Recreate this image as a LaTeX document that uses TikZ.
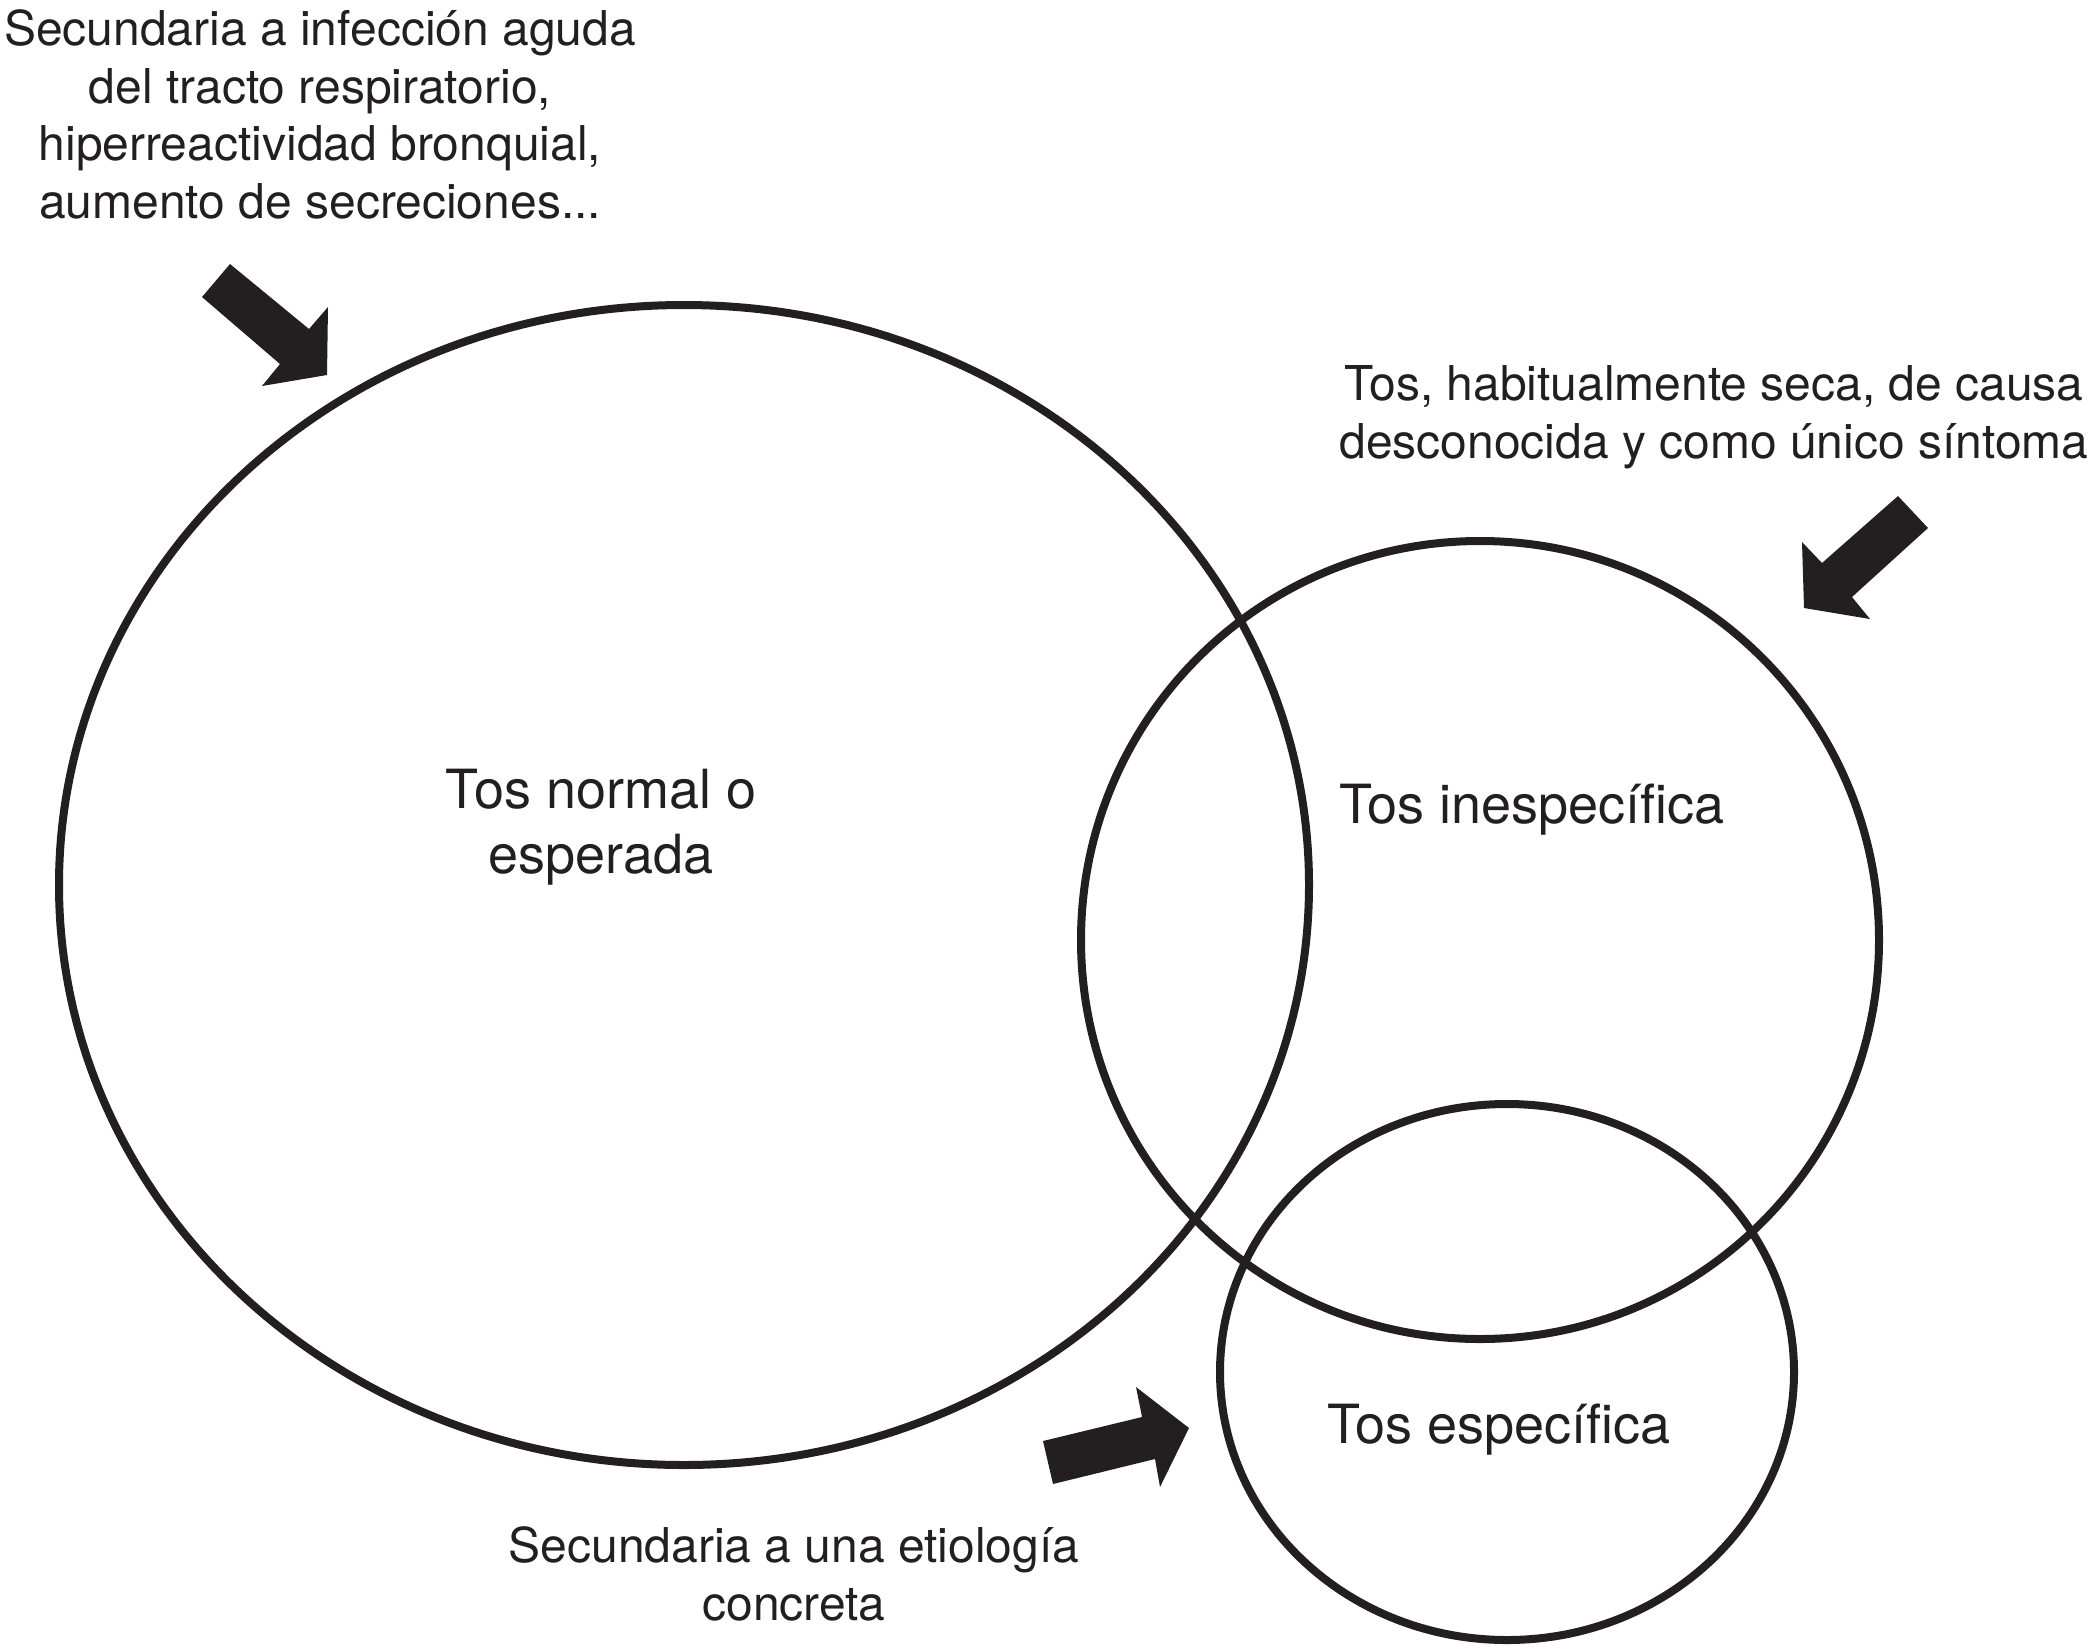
\documentclass[tikz,border=0pt]{standalone}
\usepackage{fontspec}
\setmainfont{TeX Gyre Heros}
\definecolor{ink}{HTML}{231F20}
\tikzset{
  ring/.style={draw=ink, line width=8pt},
  fatarrow/.style={fill=ink, draw=none},
  note/.style={align=center, text=ink, inner sep=0pt, anchor=base, font=\fontsize{48}{57.5}\selectfont},
  biglabel/.style={align=center, text=ink, inner sep=0pt, anchor=base, font=\fontsize{54}{65}\selectfont}
}
\begin{document}
\begin{tikzpicture}[x=1pt, y=-1pt]
\useasboundingbox (0,0) rectangle (2096,1650);
% circles
\draw[ring] (684,885) ellipse [x radius=625, y radius=580];
\draw[ring] (1480,940) ellipse [x radius=399, y radius=399];
\draw[ring] (1507,1372) ellipse [x radius=287, y radius=268];
% labels inside (base anchor = baseline of last line)
\node[biglabel] (normal) at (601,873) {Tos normal o\\esperada};
\node[biglabel] (inesp) at (1532,823) {Tos inespecífica};
\node[biglabel] (espec) at (1499,1443) {Tos específica};
% notes
\node[note] (n1) at (320,218) {Secundaria a infección aguda\\del tracto respiratorio,\\hiperreactividad bronquial,\\aumento de secreciones...};
\node[note] (n2) at (1714,458) {Tos, habitualmente seca, de causa\\desconocida y como único síntoma};
\node[note] (n3) at (794,1620) {Secundaria a una etiología\\concreta};
% arrows
\fill[fatarrow] (230,264) -- (309,329) -- (328,307) -- (327,375) -- (262,386) -- (280,364) -- (202,297) -- cycle;
\fill[fatarrow] (1898,496) -- (1928,528) -- (1852,597) -- (1870,619) -- (1804,608) -- (1802,542) -- (1822,563) -- cycle;
\fill[fatarrow] (1043,1441) -- (1142,1417) -- (1136,1387) -- (1189,1428) -- (1160,1487) -- (1155,1459) -- (1053,1484) -- cycle;
\end{tikzpicture}
\end{document}
